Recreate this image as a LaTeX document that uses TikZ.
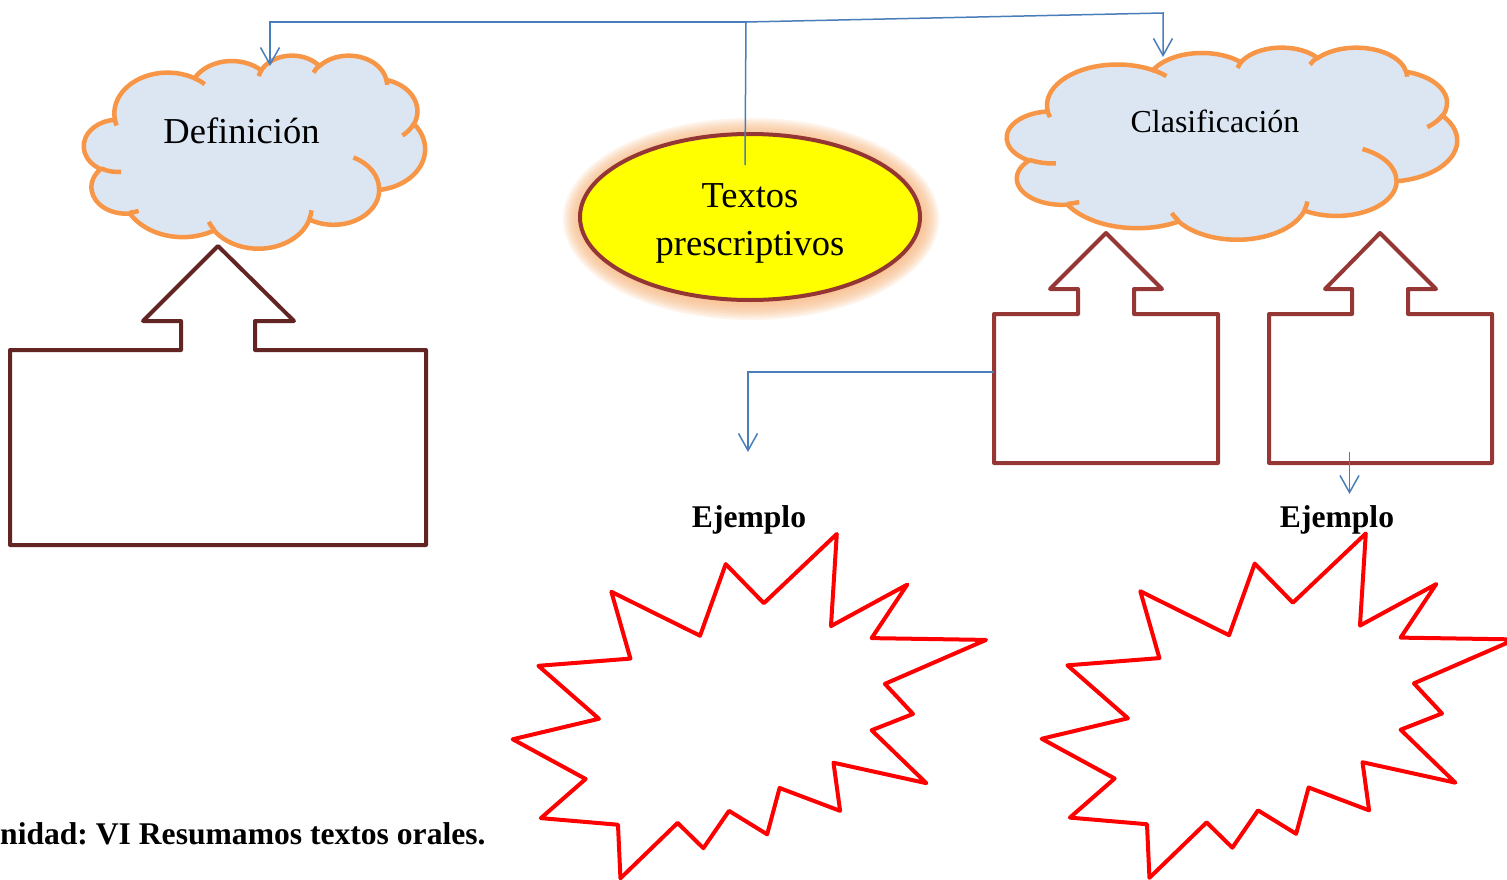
\documentclass[tikz,border=0pt]{standalone}
\usepackage{fontspec}
\setmainfont{Liberation Serif}
\usetikzlibrary{arrows.meta,shapes.geometric}
\frenchspacing

\definecolor{cloudfill}{HTML}{DCE6F2}
\definecolor{cloudedge}{HTML}{F79646}
\definecolor{elledge}{HTML}{943634}
\definecolor{ellfill}{RGB}{255,255,0}
\definecolor{glowc}{HTML}{F9B880}
\definecolor{callA}{HTML}{632523}
\definecolor{callB}{HTML}{953735}
\definecolor{connc}{HTML}{4A7EBB}

\tikzset{
  carc/.style n args={4}{insert path={arc[start angle={atan2((#1)*sin(#3),(#2)*cos(#3))},
      delta angle={mod(atan2((#1)*sin((#3)+(#4)),(#2)*cos((#3)+(#4)))-atan2((#1)*sin(#3),(#2)*cos(#3))+720,360)},
      x radius=#1, y radius=#2]}},
  cloudbody/.style={fill=cloudfill, draw=cloudedge, line width=4.5pt},
  cloudmark/.style={draw=cloudedge, line width=4.5pt},
  calloutA/.style={draw=callA, line width=4pt, line join=round},
  calloutB/.style={draw=callB, line width=4pt, line join=round},
  starline/.style={draw=red, line width=4pt, line join=round},
  conn/.style={draw=connc, line width=1.5pt},
  connarrow/.style={conn, -{Straight Barb[length=17pt,width=19pt,line width=1.5pt]}},
  bigtext/.style={font=\fontsize{36.5}{48}\selectfont},
  boldtext/.style={font=\bfseries\fontsize{31.6}{38}\selectfont},
}

\newcommand\drawmycloud[1]{%
\begin{scope}[#1]
  \path[cloudbody] (390,1437)
    [carc={675.3}{919.0}{-190.4875}{123.7805}]
    [carc={533.3}{726.7}{-144.1024}{89.9452}]
    [carc={436.5}{594.5}{-145.8079}{99.7230}]
    [carc={485.7}{659.5}{-130.9861}{117.2417}]
    [carc={533.3}{727.3}{-78.7089}{109.0269}]
    [carc={677.5}{922.0}{-46.2673}{130.2690}]
    [carc={578.5}{786.7}{0.6250}{114.0333}]
    [carc={675.2}{921.5}{22.4516}{115.1726}]
    [carc={772.0}{1054.3}{66.2426}{75.7110}]
    [carc={436.0}{591.8}{-274.9421}{146.7356}]
    [carc={434.5}{594.5}{-246.8285}{152.5189}]
    -- cycle;
  \path[cloudmark]
    (469.3,2617.7) [carc={434.5}{594.5}{86.742}{26.4295}]
    (692.8,3489.9) [carc={436.0}{591.8}{73.6105}{11.4475}]
    (1647.8,3909.0) [carc={675.2}{921.5}{137.6242}{14.0811}]
    (2882.7,3475.1) [carc={675.2}{921.5}{6.4533}{15.9984}]
    (3412.9,2295.4) [carc={578.5}{786.7}{-70.2924}{70.9174}]
    (4179.8,1535.4) [carc={533.3}{727.3}{30.3180}{27.7515}]
    (3832.4,542.6) [carc={485.7}{659.5}{-13.7443}{14.8589}]
    (2907.8,395.2) [carc={485.7}{659.5}{-149.1815}{18.1954}]
    (2214.1,472.0) [carc={436.5}{594.5}{-163.4943}{17.6864}]
    (1400.0,519.2) [carc={675.3}{919.0}{-66.7070}{12.3194}]
    (412.7,1578.9) [carc={675.3}{919.0}{157.6544}{11.8582}];
\end{scope}}

\begin{document}
\begin{tikzpicture}[x=1pt,y=-1pt]
\useasboundingbox (0,0) rectangle (1507,880);
\fill[white] (0,0) rectangle (1507,880);

% clouds
\drawmycloud{shift={(84,55)}, x=0.078935pt, y=-0.044676pt}
\drawmycloud{shift={(1007,47)}, x=0.104167pt, y=-0.044444pt}
\node[bigtext, anchor=base] (deft) at (241.5,143) {Definición};
\node[font=\fontsize{32}{38}\selectfont, anchor=base] (clat) at (1215,133) {Clasificación};

% central ellipse with glow
\foreach \i in {1,...,9}
  \fill[glowc, opacity=0.15] (751,219) ellipse [x radius={170+2*\i}, y radius={83+2*\i}];
\node[ellipse, draw=elledge, fill=ellfill, line width=4pt, minimum width=340pt,
      minimum height=166pt, inner sep=0pt] (tp) at (750,217) {};
\node[bigtext, align=center] (tptext) at (750,223) {Textos\\prescriptivos};

% up-arrow callouts
\draw[calloutA] (10,350) -- (181,350) -- (181,321) -- (143,321) -- (218,246) -- (294,321)
  -- (255,321) -- (255,350) -- (426,350) -- (426,545) -- (10,545) -- cycle;
\draw[calloutB] (994,314) -- (1078,314) -- (1078,289) -- (1050,289) -- (1106,233) -- (1162,289)
  -- (1134,289) -- (1134,314) -- (1218,314) -- (1218,463) -- (994,463) -- cycle;
\draw[calloutB] (1269,314) -- (1352,314) -- (1352,289) -- (1325,289) -- (1380,233) -- (1436,289)
  -- (1408,289) -- (1408,314) -- (1492,314) -- (1492,463) -- (1269,463) -- cycle;

% explosions
\foreach \sx/\sy in {512.7/534, 1041.7/533.5}{
\begin{scope}[shift={(\sx,\sy)}, x=0.21912pt, y=-0.1594pt]
  \draw[starline] (1146.2,434.2) -- (1479,0) -- (1452.5,577.7) -- (1800.7,317.2) -- (1638,653.2)
   -- (2160,664.5) -- (1698.5,940.2) -- (1827,1129) -- (1638,1231) -- (1887.7,1563.2)
   -- (1464,1435) -- (1494.2,1737) -- (1218,1593.5) -- (1161.2,1884.2) -- (987.2,1737)
   -- (870,1971.2) -- (752.7,1812.5) -- (491.7,2160) -- (480.5,1824) -- (128.5,1782.5)
   -- (333,1537) -- (0,1287.7) -- (393.5,1159.2) -- (117.2,827) -- (537.2,781.7)
   -- (450.2,362.5) -- (855,638.2) -- (972.2,188.7) -- cycle;
\end{scope}}

% texts
\node[boldtext, anchor=base] (ej1) at (749,527) {Ejemplo};
\node[boldtext, anchor=base] (ej2) at (1337,527) {Ejemplo};
\node[boldtext, anchor=base west, inner sep=0pt] (unidad) at (0,844) {nidad: VI Resumamos textos orales.};

% connectors
\coordinate (tpin) at (745,165);
\coordinate (j) at (746,22);
\coordinate (jl) at (270,22);
\coordinate (defin) at (270,66);
\coordinate (jr) at (1163,13);
\coordinate (clain) at (1163,57);
\coordinate (c1l) at (994,372);
\coordinate (c1t) at (748,372);
\coordinate (ej1in) at (748,452);
\coordinate (c2b) at (1349.5,451.5);
\coordinate (ej2in) at (1349.5,494);
\draw[conn] (tpin) -- (j);
\draw[connarrow] (j) -- (jl) -- (defin);
\draw[connarrow] (j) -- (jr) -- (clain);
\draw[connarrow] (c1l) -- (c1t) -- (ej1in);
\draw[connarrow] (c2b) -- (ej2in);
\end{tikzpicture}
\end{document}
